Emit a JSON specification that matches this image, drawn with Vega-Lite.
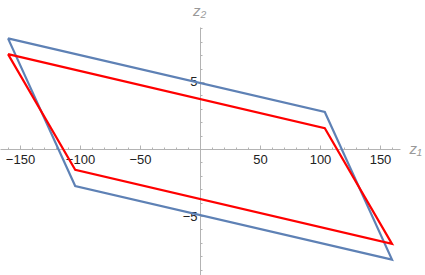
{
  "$schema": "https://vega.github.io/schema/vega-lite/v6.json",
  "width": 400,
  "height": 248,
  "autosize": {"type": "none"},
  "padding": {"left": 0, "top": 27, "right": 25, "bottom": 0},
  "config": {
    "view": {"stroke": null},
    "axis": {"grid": false, "labelFont": "Liberation Sans", "titleFont": "Liberation Sans"}
  },
  "data": {
    "values": [
      {"shape": "blue", "i": 0, "z1": -160, "z2": 8.25},
      {"shape": "blue", "i": 1, "z1": 104, "z2": 2.76},
      {"shape": "blue", "i": 2, "z1": 160, "z2": -8.25},
      {"shape": "blue", "i": 3, "z1": -104, "z2": -2.76},
      {"shape": "blue", "i": 4, "z1": -160, "z2": 8.25},
      {"shape": "red", "i": 0, "z1": -160, "z2": 7.08},
      {"shape": "red", "i": 1, "z1": 104, "z2": 1.55},
      {"shape": "red", "i": 2, "z1": 160, "z2": -7.08},
      {"shape": "red", "i": 3, "z1": -104, "z2": -1.55},
      {"shape": "red", "i": 4, "z1": -160, "z2": 7.08}
    ]
  },
  "layer": [
    {
      "transform": [{"filter": "datum.shape === 'blue'"}],
      "mark": {"type": "line", "color": "#5E81B5", "strokeWidth": 2.2},
      "encoding": {
        "order": {"field": "i", "type": "quantitative"},
        "x": {
          "field": "z1", "type": "quantitative",
          "scale": {"domain": [-166.667, 166.667], "nice": false, "zero": false},
          "axis": {
            "orient": "bottom", "offset": -126,
            "values": [-150, -100, -50, 50, 100, 150],
            "domainColor": "#b3b3b3", "domainWidth": 1,
            "tickColor": "#b3b3b3", "tickSize": -4, "tickWidth": 1,
            "labelPadding": 8, "labelFontSize": 13, "labelColor": "#222222",
            "title": "z₁", "titleX": 409, "titleY": -1, "titleAlign": "left",
            "titleBaseline": "middle", "titleFontSize": 15, "titleFontWeight": "normal",
            "titleFontStyle": "italic", "titleColor": "#999999"
          }
        },
        "y": {
          "field": "z2", "type": "quantitative",
          "scale": {"domain": [-9.4, 9.1], "nice": false, "zero": false},
          "axis": {
            "orient": "left", "offset": -200,
            "values": [-5, 5],
            "domainColor": "#b3b3b3", "domainWidth": 1,
            "tickColor": "#b3b3b3", "tickSize": -4, "tickWidth": 1,
            "labelPadding": 7, "labelFontSize": 13, "labelColor": "#222222",
            "title": "z₂", "titleX": -1, "titleY": -17, "titleAngle": 0,
            "titleAlign": "center", "titleBaseline": "middle", "titleFontSize": 15,
            "titleFontWeight": "normal", "titleFontStyle": "italic", "titleColor": "#999999"
          }
        }
      }
    },
    {
      "transform": [{"filter": "datum.shape === 'red'"}],
      "mark": {"type": "line", "color": "#FF0000", "strokeWidth": 2.2},
      "encoding": {
        "order": {"field": "i", "type": "quantitative"},
        "x": {
          "field": "z1", "type": "quantitative",
          "axis": {
            "orient": "bottom", "offset": -126,
            "values": [-160, -140, -130, -120, -110, -90, -80, -70, -60, -40, -30, -20, -10, 10, 20, 30, 40, 60, 70, 80, 90, 110, 120, 130, 140, 160],
            "domain": false, "labels": false, "title": null,
            "tickColor": "#b3b3b3", "tickSize": -2, "tickWidth": 1
          }
        },
        "y": {
          "field": "z2", "type": "quantitative",
          "axis": {
            "orient": "left", "offset": -200,
            "values": [-9, -8, -7, -6, -4, -3, -2, -1, 1, 2, 3, 4, 6, 7, 8, 9],
            "domain": false, "labels": false, "title": null,
            "tickColor": "#b3b3b3", "tickSize": -2, "tickWidth": 1
          }
        }
      }
    }
  ],
  "resolve": {"axis": {"x": "independent", "y": "independent"}}
}
